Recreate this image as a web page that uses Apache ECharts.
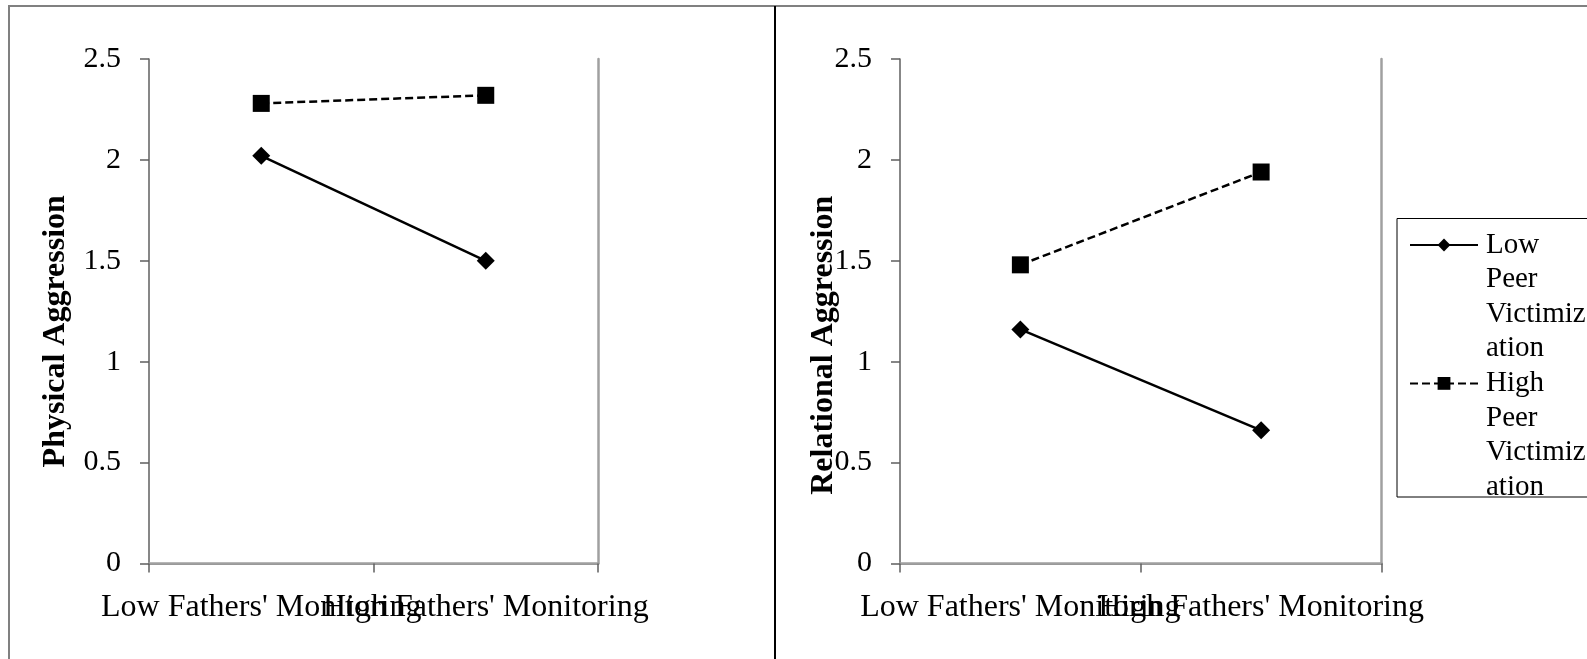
<!DOCTYPE html>
<html>
<head>
<meta charset="utf-8">
<script src="https://cdn.jsdelivr.net/npm/echarts@6/dist/echarts.min.js"></script>
<style>
html,body{margin:0;padding:0;background:#fff;}
#chart{width:1587px;height:659px;}
</style>
</head>
<body>
<div id="chart"></div>
<script>
// ---- data ----
const categories = ["Low Fathers' Monitoring", "High Fathers' Monitoring"];
const seriesNames = ["Low Peer Victimization", "High Peer Victimization"];
const legendLabels = ["Low\nPeer\nVictimiz\nation", "High\nPeer\nVictimiz\nation"];
const physicalLow = [2.02, 1.50];
const physicalHigh = [2.28, 2.32];
const relationalLow = [1.16, 0.66];
const relationalHigh = [1.48, 1.94];
const yMin = 0, yMax = 2.5, yStep = 0.5;
const yTitles = ["Physical Aggression", "Relational Aggression"];

const FONT = "'Liberation Serif', 'Times New Roman', serif";
const L = 34.6;

function bottomX(grid) {
  return {
    type: 'category', gridIndex: grid, data: categories, boundaryGap: true,
    axisLine: {show: true, lineStyle: {color: '#5f5f5f', width: 1.5}},
    axisTick: {show: true, length: 9, alignWithLabel: false, lineStyle: {color: '#5f5f5f', width: 1.5}},
    axisLabel: {interval: 0, color: '#000', fontFamily: FONT, fontSize: 32, margin: 28, hideOverlap: false},
    splitLine: {show: false}
  };
}
function topX(grid) {
  return {
    type: 'category', gridIndex: grid, data: categories, position: 'top',
    axisLine: {show: true, lineStyle: {color: '#a0a0a0', width: 2.5}},
    axisTick: {show: false}, axisLabel: {show: false}, splitLine: {show: false}
  };
}
function leftY(grid, title, gap, shift) {
  return {
    type: 'value', gridIndex: grid, min: yMin, max: yMax, interval: yStep,
    name: title, nameLocation: 'middle', nameRotate: 90, nameGap: gap, nameMoveOverlap: false,
    nameTextStyle: {fontFamily: FONT, fontSize: 32, fontWeight: 'bold', color: '#000', padding: [0, shift, 0, 0]},
    axisLine: {show: true, lineStyle: {color: '#5f5f5f', width: 1.5}},
    axisTick: {show: true, length: 9, lineStyle: {color: '#5f5f5f', width: 1.5}},
    axisLabel: {color: '#000', fontFamily: FONT, fontSize: 30, margin: 28},
    splitLine: {show: false}
  };
}
function rightY(grid) {
  return {
    type: 'value', gridIndex: grid, min: yMin, max: yMax, interval: yStep, position: 'right',
    axisLine: {show: true, lineStyle: {color: '#a0a0a0', width: 2.5}},
    axisTick: {show: false}, axisLabel: {show: false}, splitLine: {show: false}
  };
}
function lowSeries(x, y, data) {
  return {
    name: seriesNames[0], type: 'line', xAxisIndex: x, yAxisIndex: y, data: data,
    symbol: 'diamond', symbolSize: 18,
    lineStyle: {color: '#000', width: 2.5, type: 'solid'},
    itemStyle: {color: '#000'}, silent: true
  };
}
function highSeries(x, y, data) {
  return {
    name: seriesNames[1], type: 'line', xAxisIndex: x, yAxisIndex: y, data: data,
    symbol: 'rect', symbolSize: 17,
    lineStyle: {color: '#000', width: 2.5, type: [8, 4]},
    itemStyle: {color: '#000'}, silent: true
  };
}

const chart = echarts.init(document.getElementById('chart'), null, {renderer: 'canvas'});
const option = {
  animation: false,
  backgroundColor: '#fff',
  grid: [
    {left: 149, top: 59, width: 449, height: 504.5},
    {left: 900, top: 59, width: 481.5, height: 504.5}
  ],
  xAxis: [bottomX(0), topX(0), bottomX(1), topX(1)],
  yAxis: [leftY(0, yTitles[0], 77, 40), rightY(0), leftY(1, yTitles[1], 60, 68), rightY(1)],
  legend: {
    orient: 'vertical', left: 1409, top: 245 - 3.5 * L, padding: 0,
    itemWidth: 68, itemHeight: 16, itemGap: -3 * L,
    data: seriesNames,
    formatter: function (name) { return '\n\n\n' + legendLabels[seriesNames.indexOf(name)]; },
    textStyle: {fontFamily: FONT, fontSize: 29, lineHeight: L, color: '#000', padding: [0, 0, 0, 3]},
    selectedMode: false
  },
  graphic: [
    {type: 'rect', z: -10, shape: {x: 9, y: 6, width: 766, height: 720}, style: {fill: 'none', stroke: '#808080', lineWidth: 2}},
    {type: 'rect', z: -10, shape: {x: 775, y: 6, width: 900, height: 720}, style: {fill: 'none', stroke: '#808080', lineWidth: 2}},
    {type: 'line', z: -9, shape: {x1: 775, y1: 6, x2: 775, y2: 700}, style: {stroke: '#000', lineWidth: 2}},
    {type: 'rect', z: -5, shape: {x: 1397, y: 218.5, width: 250, height: 278.5}, style: {fill: 'none', stroke: '#000', lineWidth: 1}}
  ],
  series: [
    lowSeries(0, 0, physicalLow),
    highSeries(0, 0, physicalHigh),
    lowSeries(2, 2, relationalLow),
    highSeries(2, 2, relationalHigh)
  ]
};
chart.setOption(option);
</script>
</body>
</html>
